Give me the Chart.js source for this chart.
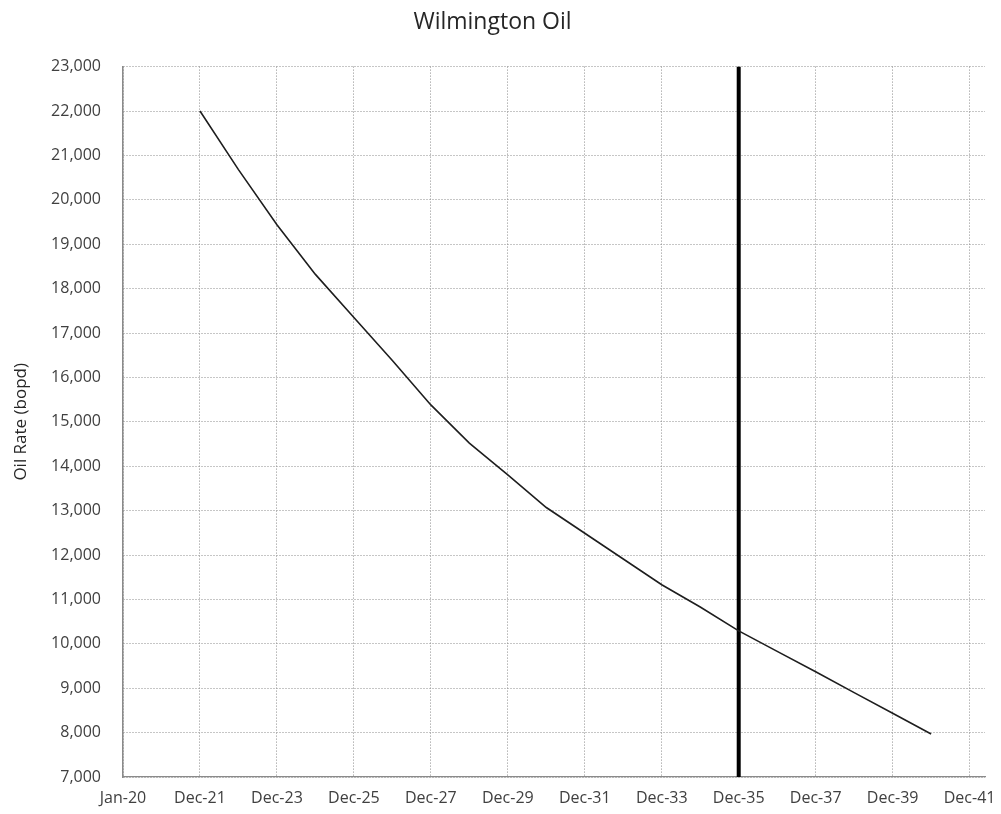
<!DOCTYPE html>
<html>
<head>
<meta charset="utf-8">
<title>Wilmington Oil</title>
<script src="https://cdn.jsdelivr.net/npm/chart.js@4"></script>
<style>
  html, body { margin: 0; padding: 0; background: #fff; }
  #wrap { width: 1001px; height: 814px; }
</style>
</head>
<body>
<div id="wrap"><canvas id="oilChart"></canvas></div>
<script>
// years since Jan-2020 (x = 2 is Dec-21, x = 16 is Dec-35 ...)
const years = [2, 3, 4, 5, 6, 7, 8, 9, 10, 11, 12, 13, 14, 15, 16, 17, 18, 19, 20, 21];
const oilRate = [22000, 20680, 19440, 18320, 17350, 16380, 15380, 14520, 13805, 13070,
                 12490, 11910, 11330, 10830, 10290, 9830, 9370, 8900, 8435, 7970];
const xTickLabels = ['Jan-20', 'Dec-21', 'Dec-23', 'Dec-25', 'Dec-27', 'Dec-29',
                     'Dec-31', 'Dec-33', 'Dec-35', 'Dec-37', 'Dec-39', 'Dec-41'];
const cutoffYear = 16;
const yMin = 7000;
const yMax = 23000;

const fontFamily = "'Open Sans', sans-serif";
const gridColor = '#8c8c8c';

const ctx = document.getElementById('oilChart').getContext('2d');

const chart = new Chart(ctx, {
    type: 'line',
    data: {
        datasets: [{
            label: 'Oil Rate',
            data: years.map((x, i) => ({ x: x, y: oilRate[i] })),
            borderColor: '#1e1e1e',
            borderWidth: 1.6,
            pointRadius: 0,
            tension: 0,
            fill: false
        }, {
            label: 'Cutoff',
            data: [{ x: cutoffYear, y: yMin }, { x: cutoffYear, y: yMax }],
            borderColor: '#000',
            borderWidth: 4,
            pointRadius: 0,
            fill: false
        }]
    },
    options: {
        responsive: true,
        maintainAspectRatio: false,
        animation: false,
        layout: { padding: { left: 0, right: 16, top: 0, bottom: 0 } },
        plugins: {
            legend: { display: false },
            tooltip: { enabled: false },
            title: {
                display: true,
                text: 'Wilmington Oil',
                color: '#262626',
                font: { family: fontFamily, size: 23, weight: 'normal' },
                padding: { top: 9, bottom: 30 }
            }
        },
        scales: {
            x: {
                type: 'linear',
                min: 0,
                max: 22.4,
                afterBuildTicks: (scale) => {
                    scale.ticks = xTickLabels.map((_, i) => ({ value: i * 2 }));
                },
                afterFit: (scale) => {
                    scale.height = 37;
                    scale.paddingRight = 0;
                },
                ticks: {
                    autoSkip: false,
                    maxRotation: 0,
                    padding: 12,
                    color: '#404040',
                    font: { family: fontFamily, size: 16 },
                    callback: (value) => xTickLabels[value / 2]
                },
                grid: { color: gridColor, drawTicks: false },
                // in v4 border.dash styles the grid lines, the axis line stays solid
                border: { display: true, color: '#8a8a8a', width: 1.2, dash: [1, 2] }
            },
            y: {
                min: yMin,
                max: yMax,
                afterFit: (scale) => { scale.width = 123; },
                ticks: {
                    stepSize: 1000,
                    padding: 22,
                    color: '#404040',
                    font: { family: fontFamily, size: 16 },
                    callback: (value) => value.toLocaleString('en-US')
                },
                grid: { color: gridColor, drawTicks: false },
                border: { display: true, color: '#8a8a8a', width: 1.5, dash: [1, 2] },
                title: {
                    display: true,
                    text: 'Oil Rate (bopd)',
                    color: '#262626',
                    font: { family: fontFamily, size: 17 },
                    padding: { top: 11, bottom: 0 }
                }
            }
        }
    }
});
</script>
</body>
</html>
